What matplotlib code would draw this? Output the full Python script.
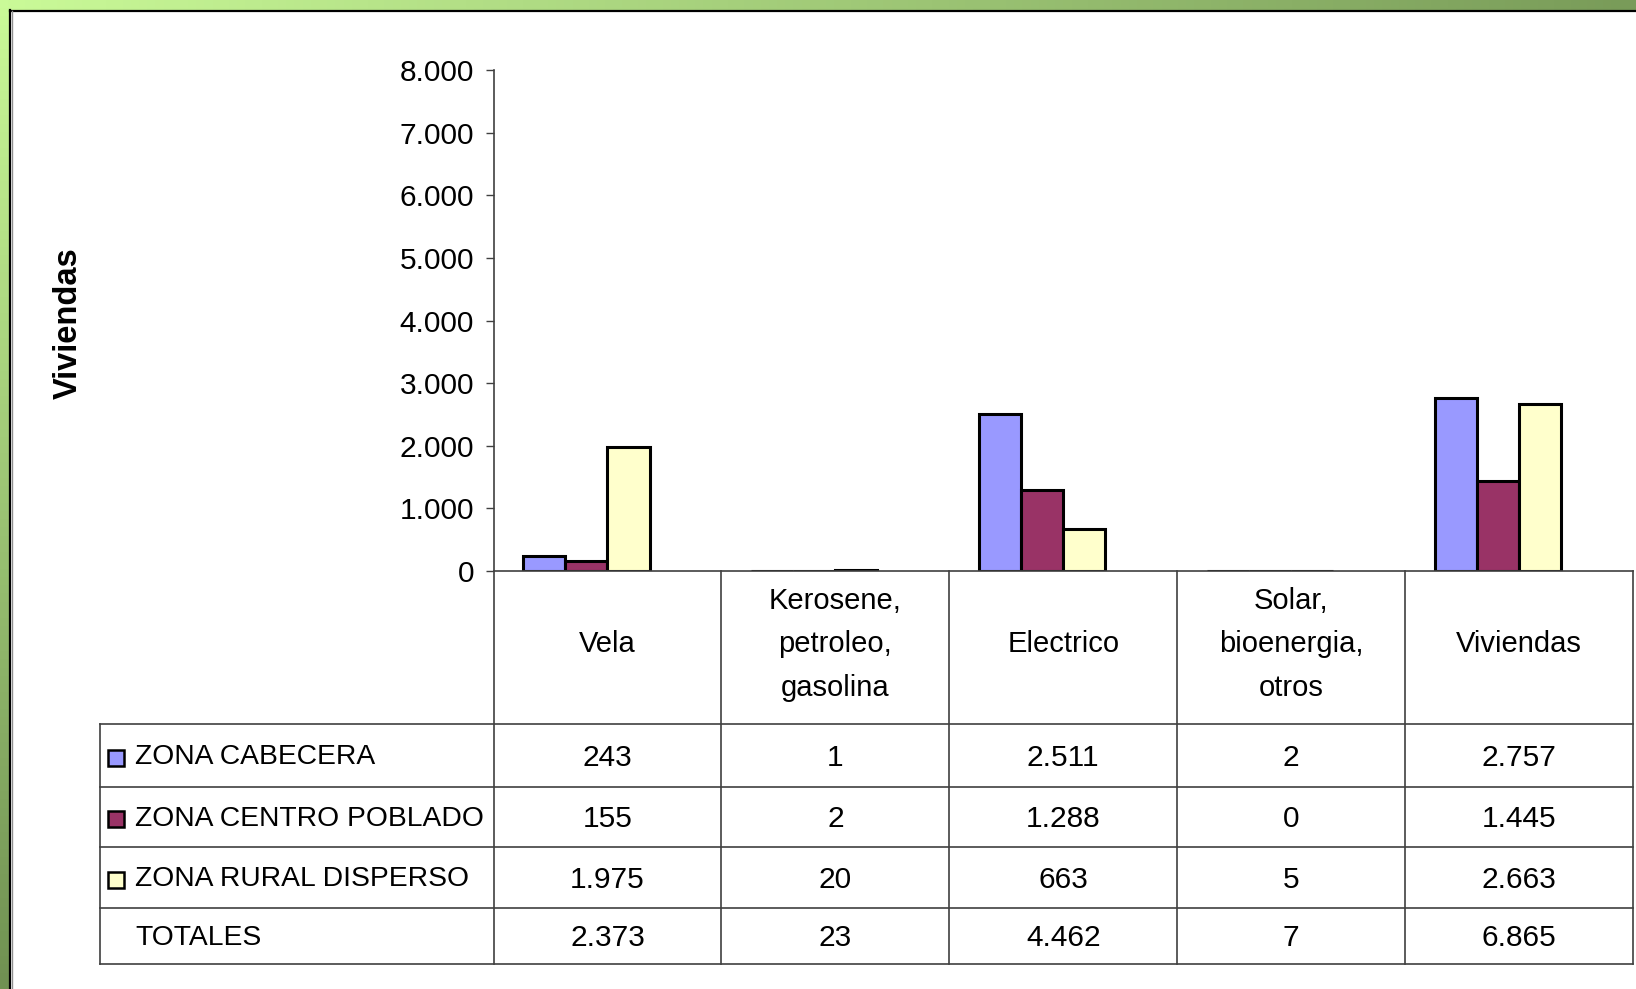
import numpy as np
import matplotlib
matplotlib.use("Agg")
from matplotlib import pyplot as plt
from matplotlib.patches import Rectangle
from matplotlib.ticker import FuncFormatter

plt.rcParams["font.family"] = ["Liberation Sans", "DejaVu Sans"]

categorias = ["Vela", "Kerosene,\npetroleo,\ngasolina", "Electrico",
              "Solar,\nbioenergia,\notros", "Viviendas"]
series = ["ZONA CABECERA", "ZONA CENTRO POBLADO", "ZONA RURAL DISPERSO"]
cabecera = [243, 1, 2511, 2, 2757]
centro_poblado = [155, 2, 1288, 0, 1445]
rural_disperso = [1975, 20, 663, 5, 2663]
totales = [2373, 23, 4462, 7, 6865]
colores = ["#9999FF", "#993366", "#FFFFCC"]

W, H = 1636, 989


def miles(v, pos=None):
    return f"{v:,.0f}".replace(",", ".")


fig = plt.figure(figsize=(W / 100, H / 100), dpi=100)

# marco verde con degradado
bg = fig.add_axes([0, 0, 1, 1])
xx, yy = np.meshgrid(np.linspace(0, 1, 200), np.linspace(0, 1, 120))
t = np.clip(xx * 0.9 + yy * 1.0, 0, 1)
c0 = np.array([202, 250, 152]) / 255
c1 = np.array([112, 145, 82]) / 255
img = c0[None, None, :] * (1 - t[..., None]) + c1[None, None, :] * t[..., None]
bg.imshow(img, extent=[0, W, H, 0], aspect="auto")
bg.add_patch(Rectangle((10, 10), W, H, facecolor="white", edgecolor="none"))
bg.plot([10, W], [10.5, 10.5], color="black", lw=1.6)
bg.plot([10, 10], [10, H], color="black", lw=1.6)
bg.plot([12, 12], [11, H], color="#909090", lw=1)
bg.set_xlim(0, W)
bg.set_ylim(H, 0)
bg.axis("off")

# barras
x0, x1, ytop, ybase = 493.5, 1633, 70, 571
ax = fig.add_axes([x0 / W, 1 - ybase / H, (x1 - x0) / W, (ybase - ytop) / H])
x = np.arange(len(categorias))
w = 0.1846
for k, (vals, col) in enumerate(zip([cabecera, centro_poblado, rural_disperso], colores)):
    ax.bar(x + (k - 1.5) * w, vals, width=w, color=col, edgecolor="black",
           linewidth=2.2, zorder=2)
ax.set_xlim(-0.5, len(categorias) - 0.5)
ax.set_ylim(0, 8000)
ax.set_yticks(np.arange(0, 8001, 1000))
ax.yaxis.set_major_formatter(FuncFormatter(miles))
ax.tick_params(axis="y", labelsize=21.5, length=6, width=1, color="#404040", pad=8)
ax.set_xticks([])
for s in ["top", "right"]:
    ax.spines[s].set_visible(False)
for s in ["left", "bottom"]:
    ax.spines[s].set_color("#404040")
    ax.spines[s].set_linewidth(1.2)
    ax.spines[s].set_zorder(4)
ax.patch.set_alpha(0)

fig.text(68 / W, 1 - 323 / H, "Viviendas", rotation=90, fontsize=23.5,
         fontweight="bold", ha="center", va="center")

# tabla de datos
tab = fig.add_axes([0, 0, 1, 1])
tab.set_xlim(0, W)
tab.set_ylim(H, 0)
tab.axis("off")
colw = (x1 - x0) / len(categorias)
bordes = [x0 + i * colw for i in range(len(categorias) + 1)]
filas = [571, 724, 787, 847, 908, 964]
lc = "#404040"
for b in bordes:
    tab.plot([b, b], [filas[0], filas[-1]], color=lc, lw=1.2)
tab.plot([100, 100], [filas[1], filas[-1]], color=lc, lw=1.2)
for f in filas[1:]:
    tab.plot([100, x1], [f, f], color=lc, lw=1.2)

centros = [(bordes[i] + bordes[i + 1]) / 2 for i in range(len(categorias))]
for cx, cat in zip(centros, categorias):
    tab.text(cx, (filas[0] + filas[1]) / 2 - 3, cat, ha="center", va="center",
             fontsize=21, linespacing=1.72)

filas_datos = [cabecera, centro_poblado, rural_disperso, totales]
nombres = series + ["TOTALES"]
for r, (nombre, vals) in enumerate(zip(nombres, filas_datos)):
    cy = (filas[r + 1] + filas[r + 2]) / 2 + 2
    tab.text(135, cy, nombre, ha="left", va="center", fontsize=20.3)
    if r < 3:
        tab.plot([115.5], [cy], marker="s", markersize=12, markerfacecolor=colores[r],
                 markeredgecolor="black", markeredgewidth=1.8)
    for cx, v in zip(centros, vals):
        tab.text(cx, cy, miles(v), ha="center", va="center", fontsize=21.5)

fig.savefig("out.png", dpi=100)
